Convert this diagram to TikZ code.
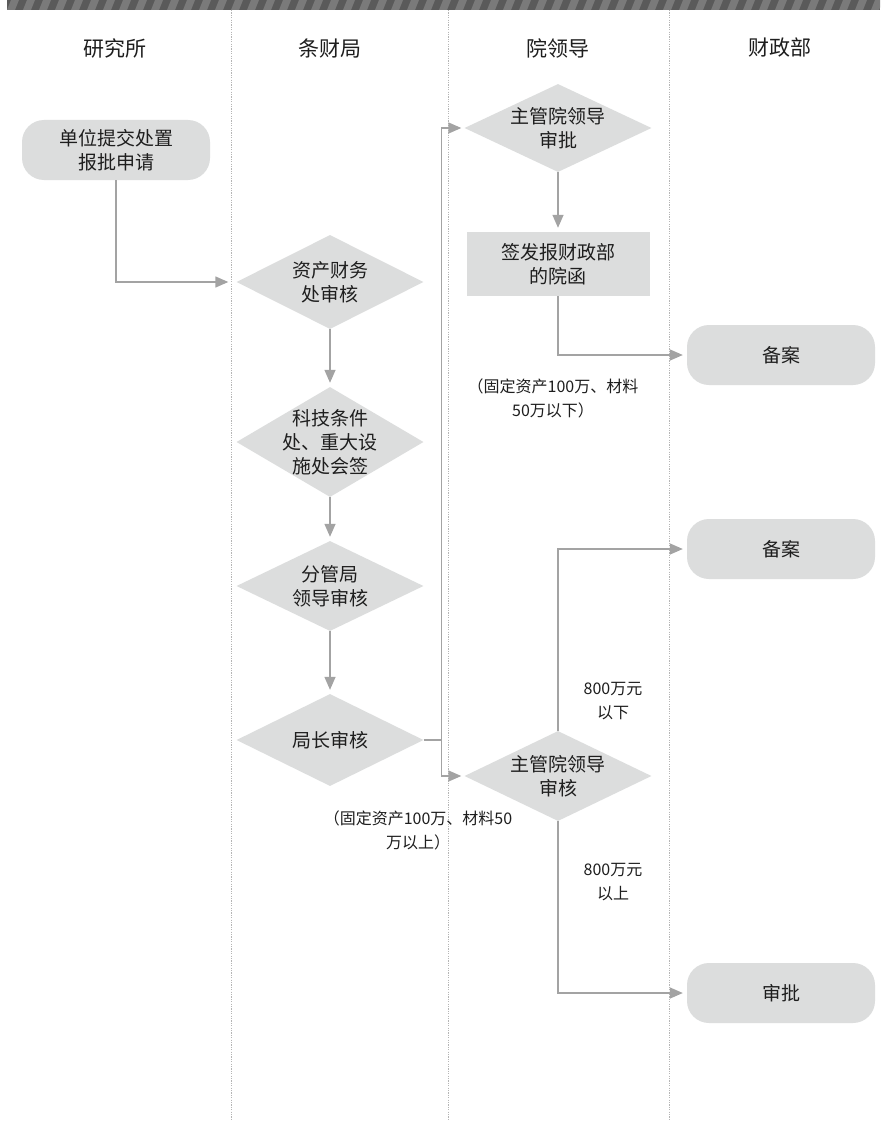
\documentclass[tikz,border=0pt]{standalone}
\usepackage{fontspec}
\setmainfont{Noto Sans CJK SC}
\usetikzlibrary{shapes.geometric,arrows.meta}
\definecolor{boxfill}{HTML}{DCDDDD}
\definecolor{linegray}{HTML}{A3A3A3}
\definecolor{txtcol}{HTML}{1E1E1E}
\definecolor{lanegray}{HTML}{B5B5B5}
\definecolor{bandDark}{HTML}{5A5A5A}
\definecolor{bandLight}{HTML}{7A7A7A}
\begin{document}
\begin{tikzpicture}[x=1pt,y=-1pt,
  every node/.style={text=txtcol},
  term/.style={fill=boxfill, rounded corners=22pt, minimum width=188pt, minimum height=60pt, inner sep=0pt, align=center, font=\fontsize{19}{24}\selectfont},
  plainbox/.style={fill=boxfill, minimum width=183pt, minimum height=64pt, inner sep=0pt, align=center, font=\fontsize{19}{24}\selectfont},
  dia/.style={diamond, fill=boxfill, inner sep=0pt, minimum width=187pt},
  diatext/.style={font=\fontsize{19}{24}\selectfont, align=center, text=txtcol},
  header/.style={font=\fontsize{21}{24}\selectfont},
  note/.style={font=\fontsize{16}{24}\selectfont, align=center},
  flow/.style={draw=linegray, line width=1.4pt, -{Triangle[length=13pt,width=11pt]}},
  plainline/.style={draw=linegray, line width=1.4pt},
  lane/.style={draw=lanegray, line width=0.7pt, dash pattern=on 1.2pt off 1.2pt}
]
\useasboundingbox[fill=white] (0,0) rectangle (886,1121);

% banner
\begin{scope}
\clip (7,0) rectangle (880,10);
\fill[bandDark] (7,0) rectangle (880,10);
\foreach \i in {0,...,55} {
  \fill[bandLight] ({7+16*\i},10) -- ({7+16*\i+8},10) -- ({7+16*\i+12},0) -- ({7+16*\i+4},0) -- cycle;
}
\end{scope}

% lanes
\draw[lane] (231,10) -- (231,1121);
\draw[lane] (448,10) -- (448,1121);
\draw[lane] (669,10) -- (669,1121);

% headers
\node[header] (h1) at (115,48) {研究所};
\node[header] (h2) at (330,48) {条财局};
\node[header] (h3) at (558,48) {院领导};
\node[header] (h4) at (780,48) {财政部};

% nodes
\node[term] (n1) at (116,150) {单位提交处置\\报批申请};
\node[dia, minimum height=94pt, label={[diatext]center:资产财务\\处审核}] (d1) at (330,282) {};
\node[dia, minimum height=110pt, label={[diatext]center:科技条件\\处、重大设\\施处会签}] (d2) at (330,442) {};
\node[dia, minimum height=90pt, label={[diatext]center:分管局\\领导审核}] (d3) at (330,586) {};
\node[dia, minimum height=92pt, label={[diatext]center:局长审核}] (d4) at (330,740) {};
\node[dia, minimum height=88pt, label={[diatext]center:主管院领导\\审批}] (d5) at (558,128) {};
\node[plainbox] (r1) at (558,264) {签发报财政部\\的院函};
\node[term] (b1) at (781,355) {备案};
\node[term] (b2) at (781,549) {备案};
\node[dia, minimum height=90pt, label={[diatext]center:主管院领导\\审核}] (d6) at (558,776) {};
\node[term] (b3) at (781,993) {审批};

% notes
\node[note] (a1) at (553,398) {（固定资产100万、材料\\50万以下）};
\node[note] (a2) at (418,830) {（固定资产100万、材料50\\万以上）};
\node[note] (a3) at (613,701) {800万元\\以下};
\node[note] (a4) at (613,882) {800万元\\以上};

% connectors
\draw[flow, shorten >=8pt] (n1.south) |- (d1.west);
\draw[flow, shorten >=4pt] (d1.south) -- (d2.north);
\draw[flow, shorten >=4pt] (d2.south) -- (d3.north);
\draw[flow, shorten >=4pt] (d3.south) -- (d4.north);
\draw[plainline] (d4.east) -- ++(18,0) coordinate (j);
\draw[flow, shorten >=3pt] (j) |- (d5.west);
\draw[flow, shorten >=3pt] (j) |- (d6.west);
\draw[flow, shorten >=4pt] (d5.south) -- (r1.north);
\draw[flow, shorten >=4pt] (r1.south) |- (b1.west);
\draw[flow, shorten >=4pt] (d6.north) |- (b2.west);
\draw[flow, shorten >=4pt] (d6.south) |- (b3.west);
\end{tikzpicture}
\end{document}
